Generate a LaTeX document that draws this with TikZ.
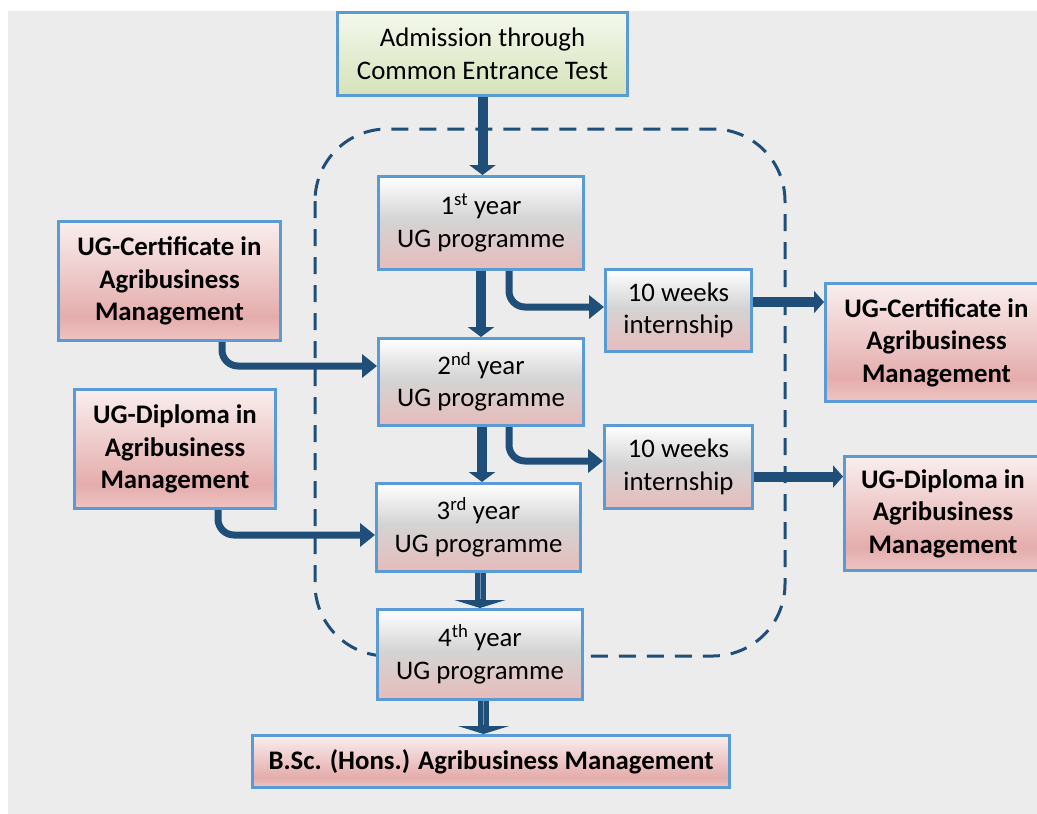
\documentclass[tikz,border=0pt]{standalone}
\usepackage{fontspec}
\setmainfont{Carlito}
\usetikzlibrary{arrows.meta}

% palette
\definecolor{bgc}{HTML}{ECECEC}
\definecolor{boxline}{HTML}{5B9BD5}
\definecolor{arrowc}{HTML}{1F4E79}
\definecolor{arrowlt}{HTML}{6F92BA}
\definecolor{gnTop}{HTML}{F4F8EC}
\definecolor{gnBot}{HTML}{D5E3BA}
\definecolor{gbMid}{HTML}{D4D4D4}
\definecolor{gbBot}{HTML}{E6BCBB}
\definecolor{pkTop}{HTML}{FAEEEE}
\definecolor{pkMid}{HTML}{E4ADAC}
\definecolor{pkBot}{HTML}{EDC5C4}

% box fills (25bp = bottom edge, 75bp = top edge)
\pgfdeclareverticalshading{greenfill}{100bp}{color(0bp)=(gnBot); color(25bp)=(gnBot); color(75bp)=(gnTop); color(100bp)=(gnTop)}
\pgfdeclareverticalshading{greyfill}{100bp}{color(0bp)=(gbBot); color(25bp)=(gbBot); color(52bp)=(gbMid); color(75bp)=(white); color(100bp)=(white)}
\pgfdeclareverticalshading{pinkfill}{100bp}{color(0bp)=(pkBot); color(25bp)=(pkBot); color(35bp)=(pkMid); color(75bp)=(pkTop); color(100bp)=(pkTop)}

\begin{document}
\begin{tikzpicture}[x=1pt,y=-1pt,
  box/.style={draw=boxline, line width=3pt, inner sep=0pt, align=center,
    text=black, font=\fontsize{26.8}{32.5}\selectfont},
  admbox/.style={box, shade, shading=greenfill},
  yearbox/.style={box, shade, shading=greyfill},
  awardbox/.style={box, shade, shading=pinkfill,
    font=\fontsize{26.8}{32.5}\selectfont\bfseries},
  frame/.style={draw=arrowc, line width=3pt, dash pattern=on 17pt off 11pt,
    rounded corners=72pt},
  blk/.style={draw=arrowc, line width=10pt, -{Triangle[length=10pt,width=26pt]}},
  wideblk/.style={draw=arrowc, line width=11pt, -{Triangle[length=8pt,width=51pt]}},
  midline/.style={draw=arrowlt, line width=1pt},
  conn/.style={draw=arrowc, line width=7pt, rounded corners=16pt,
    -{Triangle[length=15pt,width=23pt]}},
  side/.style={draw=arrowc, line width=10pt, -{Triangle[length=10pt,width=22pt]}}
]
\useasboundingbox (0,0) rectangle (1037,814);
\fill[bgc] (8,11) rectangle (1060,814);

% dashed frame around the four study years
\draw[frame] (315,129) rectangle (785,656);

% study path
\node[admbox, minimum width=290pt, minimum height=83pt] (adm) at (482.5,54)
  {Admission through\\Common Entrance Test};
\node[yearbox, minimum width=205pt, minimum height=93pt] (y1) at (481,223)
  {1\textsuperscript{st} year\\UG programme};
\node[yearbox, minimum width=205pt, minimum height=87pt] (y2) at (481,382)
  {2\textsuperscript{nd} year\\UG programme};
\node[yearbox, minimum width=204pt, minimum height=88pt] (y3) at (478.5,527.5)
  {3\textsuperscript{rd} year\\UG programme};
\node[yearbox, minimum width=205pt, minimum height=90pt] (y4) at (480,654.5)
  {4\textsuperscript{th} year\\UG programme};
\node[awardbox, minimum width=477pt, minimum height=52pt] (bsc) at (491,761.5)
  {B.Sc. (Hons.) Agribusiness Management};

% internships
\node[yearbox, minimum width=146pt, minimum height=82pt] (int1) at (678.5,310.5)
  {10 weeks\\internship};
\node[yearbox, minimum width=148pt, minimum height=83pt] (int2) at (678.5,467)
  {10 weeks\\internship};

% lateral entry awards
\node[awardbox, minimum width=222pt, minimum height=119pt] (lcert) at (169.5,281)
  {UG-Certificate in\\Agribusiness\\Management};
\node[awardbox, minimum width=201pt, minimum height=119pt] (ldip) at (175,449)
  {UG-Diploma in\\Agribusiness\\Management};

% exit awards
\node[awardbox, minimum width=222pt, minimum height=118pt] (rcert) at (936.5,342.5)
  {UG-Certificate in\\Agribusiness\\Management};
\node[awardbox, minimum width=197pt, minimum height=114pt] (rdip) at (943,513.5)
  {UG-Diploma in\\Agribusiness\\Management};

% vertical progression
\draw[blk] (adm.south) -- (adm.south |- y1.north);
\draw[blk] (y1.south) -- (y1.south |- y2.north);
\draw[blk] ([xshift=1pt]y2.south) -- ([xshift=1pt]y2.south |- y3.north);
\draw[wideblk] (y4.north |- y3.south) -- (y4.north);
\draw[midline] (y4.north |- y3.south) -- ([yshift=9pt]y4.north);
\draw[wideblk] ([xshift=3.5pt]y4.south) -- ([xshift=3.5pt]y4.south |- bsc.north);
\draw[midline] ([xshift=3.5pt]y4.south) -- ([xshift=3.5pt,yshift=9pt]y4.south |- bsc.north);

% year to internship
\draw[conn] ([xshift=28pt]y1.south) |- ([yshift=3.5pt]int1.west);
\draw[conn] ([xshift=28pt]y2.south) |- ([yshift=6pt]int2.west);

% lateral entry
\draw[conn] ([xshift=52.5pt]lcert.south) |- ([yshift=16pt]y2.west);
\draw[conn] ([xshift=43pt]ldip.south) |- ([yshift=-7.5pt]y3.west);

% exit after internship
\draw[side] ([yshift=8.5pt]int1.east) -- ([yshift=8.5pt]int1.east -| rcert.west);
\draw[side] ([yshift=-9.5pt]int2.east) -- ([yshift=-9.5pt]int2.east -| rdip.west);
\end{tikzpicture}
\end{document}
